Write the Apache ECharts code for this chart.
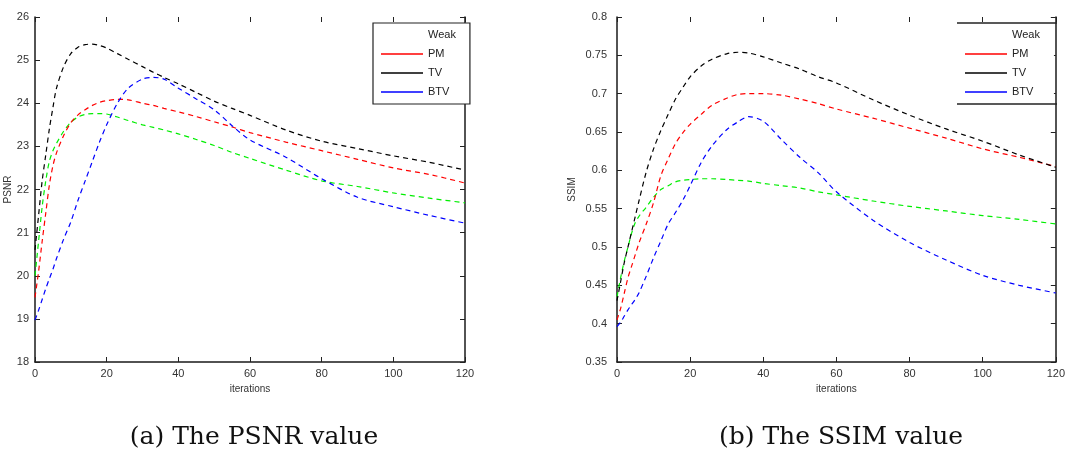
<!DOCTYPE html>
<html>
<head>
<meta charset="utf-8">
<script src="https://cdn.jsdelivr.net/npm/echarts@6/dist/echarts.min.js"></script>
<style>
html,body{margin:0;padding:0;background:#fff;}
#c{width:1068px;height:468px;}
</style>
</head>
<body>
<div id="c"></div>
<script>
// shared iteration samples
const iterations = [0,1,2,3,4,5,6,8,10,12,14,16,18,20,23,26,30,33,36,40,45,50,55,60,70,80,90,100,110,120];
const seriesNames = ['Weak','PM','TV','BTV'];
const xTicks = [0,20,40,60,80,100,120];

// PSNR (left panel)
const psnrWeak = [20.0,20.8,21.6,22.2,22.65,22.9,23.07,23.35,23.56,23.68,23.74,23.76,23.76,23.75,23.68,23.6,23.5,23.44,23.38,23.29,23.16,23.02,22.86,22.72,22.45,22.2,22.07,21.92,21.8,21.69];
const psnrPM   = [19.5,20.1,20.8,21.45,22.1,22.55,22.85,23.25,23.55,23.73,23.85,23.95,24.02,24.06,24.09,24.08,24.0,23.95,23.88,23.8,23.69,23.57,23.45,23.32,23.1,22.9,22.7,22.5,22.35,22.15];
const psnrTV   = [20.6,21.4,22.2,22.8,23.4,23.9,24.35,24.85,25.15,25.3,25.36,25.37,25.34,25.28,25.15,25.02,24.85,24.72,24.6,24.45,24.25,24.05,23.88,23.72,23.38,23.12,22.95,22.78,22.63,22.45];
const psnrBTV  = [18.97,19.2,19.45,19.7,19.93,20.15,20.4,20.85,21.25,21.75,22.2,22.65,23.1,23.5,24.0,24.35,24.56,24.6,24.56,24.35,24.1,23.85,23.48,23.15,22.75,22.25,21.82,21.6,21.4,21.22];

// SSIM (right panel)
const ssimWeak = [0.435,0.46,0.482,0.5,0.518,0.532,0.54,0.552,0.565,0.575,0.58,0.585,0.587,0.588,0.589,0.589,0.588,0.587,0.586,0.583,0.58,0.577,0.572,0.568,0.56,0.553,0.547,0.541,0.536,0.53];
const ssimPM   = [0.405,0.42,0.44,0.46,0.475,0.49,0.505,0.53,0.558,0.593,0.615,0.635,0.649,0.66,0.673,0.685,0.694,0.699,0.7,0.7,0.698,0.693,0.687,0.68,0.668,0.655,0.642,0.628,0.617,0.605];
const ssimTV   = [0.43,0.455,0.48,0.5,0.52,0.54,0.56,0.598,0.628,0.652,0.673,0.693,0.708,0.722,0.736,0.745,0.752,0.754,0.753,0.748,0.74,0.732,0.722,0.714,0.692,0.672,0.654,0.638,0.62,0.604];
const ssimBTV  = [0.396,0.402,0.41,0.418,0.425,0.432,0.44,0.462,0.486,0.508,0.53,0.545,0.561,0.58,0.61,0.632,0.653,0.663,0.67,0.664,0.64,0.617,0.597,0.572,0.535,0.506,0.483,0.463,0.45,0.44];

const colors = {Weak:'#00ee00', PM:'#ff0000', TV:'#000000', BTV:'#0000ff'};
const pair = arr => iterations.map((x,i)=>[x,arr[i]]);

const font = 'Liberation Sans, Arial, sans-serif';
const axisLineStyle = {color:'#1a1a1a', width:1.5};

function xAx(grid, pos, showLabel, name){
  return {type:'value', gridIndex:grid, position:pos, min:0, max:120, interval:20,
    name: name||'', nameLocation:'middle', nameGap:21, nameTextStyle:{fontFamily:font,fontSize:10,color:'#333'},
    axisLine:{show: pos==='bottom', lineStyle:axisLineStyle},
    axisTick:{show:true, inside:true, length:5, lineStyle:{color:'#222'}},
    axisLabel:{show:showLabel, fontFamily:font, fontSize:11, color:'#333', margin:6},
    splitLine:{show:false}};
}
function yAx(grid, pos, showLabel, min, max, interval, name){
  return {type:'value', gridIndex:grid, position:pos, min:min, max:max, interval:interval,
    name: name||'', nameLocation:'middle', nameGap: grid===0?22:40, nameTextStyle:{fontFamily:font,fontSize:10,color:'#333'},
    axisLine:{show:true, onZero:false, lineStyle:axisLineStyle},
    axisTick:{show:true, inside:true, length:5, lineStyle:{color:'#222'}},
    axisLabel:{show:showLabel, fontFamily:font, fontSize:11, color:'#333', margin: grid===0?6:10},
    splitLine:{show:false}};
}

const series = [];
const psnr = {Weak:psnrWeak, PM:psnrPM, TV:psnrTV, BTV:psnrBTV};
const ssim = {Weak:ssimWeak, PM:ssimPM, TV:ssimTV, BTV:ssimBTV};
seriesNames.forEach(n=>{
  series.push({name:n, type:'line', xAxisIndex:0, yAxisIndex:0, data:pair(psnr[n]), smooth:0.3,
    showSymbol:false, lineStyle:{color:colors[n], width:1.2, type:[5,4]}, itemStyle:{color:colors[n]}, z:2});
});
seriesNames.forEach(n=>{
  series.push({name:n, type:'line', xAxisIndex:2, yAxisIndex:2, data:pair(ssim[n]), smooth:0.3,
    showSymbol:false, lineStyle:{color:colors[n], width:1.2, type:[5,4]}, itemStyle:{color:colors[n]}, z:2});
});

function legendData(){
  return seriesNames.map(n=>({name:n, itemStyle:{color: n==='Weak' ? 'rgba(0,0,0,0)' : colors[n]}}));
}
function legend(left, border){
  return {orient:'vertical', left:left, top:23, data:legendData(), icon:'rect',
    itemWidth:42, itemHeight:1.5, itemGap:5, padding:[5,14,5,8],
    borderColor: border ? '#222' : 'transparent', borderWidth: border ? 1.2 : 0, backgroundColor:'#fff',
    textStyle:{fontFamily:font, fontSize:11, color:'#222', lineHeight:14}, selectedMode:false, z:10};
}

const option = {
  animation:false,
  backgroundColor:'#fff',
  grid:[{left:35, top:17, width:430, height:345}, {left:617, top:17, width:441, height:345}],
  xAxis:[xAx(0,'bottom',true,'iterations'), xAx(0,'top',false), xAx(1,'bottom',true,'iterations'), xAx(1,'top',false)],
  yAxis:[yAx(0,'left',true,18,26,1,'PSNR'), yAx(0,'right',false,18,26,1), yAx(1,'left',true,0.35,0.8,0.05,'SSIM'), yAx(1,'right',false,0.35,0.8,0.05)],
  legend:[legend(373,true), legend(957,false)],
  series:series,
  graphic:[
    {type:'line', shape:{x1:957,y1:23,x2:1057,y2:23}, style:{stroke:'#222',lineWidth:1.3}, z:100},
    {type:'line', shape:{x1:957,y1:104,x2:1057,y2:104}, style:{stroke:'#222',lineWidth:1.3}, z:100},
    {type:'text', style:{text:'(a) The PSNR value', font:'25px "DejaVu Serif", serif', fill:'#111', textAlign:'center', textVerticalAlign:'middle', x:254, y:437}},
    {type:'text', style:{text:'(b) The SSIM value', font:'25px "DejaVu Serif", serif', fill:'#111', textAlign:'center', textVerticalAlign:'middle', x:841, y:437}}
  ]
};

const chart = echarts.init(document.getElementById('c'), null, {renderer:'canvas'});
chart.setOption(option);
</script>
</body>
</html>
